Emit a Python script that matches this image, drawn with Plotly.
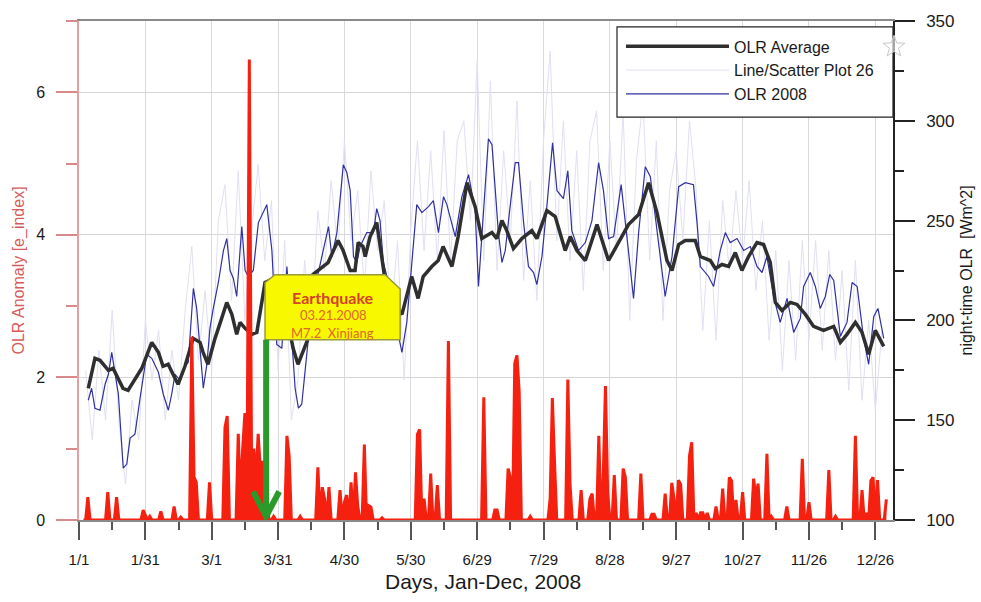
import math
import plotly.graph_objects as go

# ---------------- data ----------------
tick_days = [0, 30, 60, 90, 120, 150, 180, 210, 240, 270, 300, 330, 360]
tick_labels = ["1/1", "1/31", "3/1", "3/31", "4/30", "5/30", "6/29",
               "7/29", "8/28", "9/27", "10/27", "11/26", "12/26"]
minor_days = [15, 45, 75, 105, 135, 165, 195, 225, 255, 285, 315, 345]

# OLR Average (day of year, W/m^2)
avg_pts = [(4.2,166),(7.2,181),(9.5,180),(13.3,175),(15.4,176),(19.9,166),(22.2,165),(28.4,176),
           (32.9,189),(35.9,184),(38,177),(40.3,178),(43.4,171),(44.8,168),(47.9,177),(51.6,191),
           (54.7,189),(56.1,184),(58.3,178),(61.5,191),(64.5,201),(66.8,209),(69.1,203),(71.3,193),
           (72.8,199),(75.1,196),(78.1,193),(80.4,194),(84.1,219),(88,221),(92,213),(96.8,186),
           (99,178),(103.6,191),(105.8,223),(110.4,227),(112.6,229),(117.1,240),(119.4,235),(122.6,225),
           (124.8,225),(126.2,239),(128.4,237),(129.4,232),(131.6,242),(134.6,249),(138.4,220),(142,208),
           (146,203),(150.4,222),(153.3,211),(155.6,222),(159.5,227),(162.4,230),(164.6,237),(168.6,227),
           (171.4,242),(175.4,269),(179.1,257),(182.1,241),(186.7,244),(188.9,241),(191.2,250),(193.4,245),
           (196.4,236),(200.2,241),(204.7,245),(207,241),(211.5,255),(215.3,252),(219.8,235),(222.1,242),
           (225.1,235),(228.9,230),(234.2,248),(239.4,230),(243.9,239),(248.4,248),(253,253),(257.5,269),
           (261.3,254),(265.8,230),(268.1,225),(271.1,238),(274.1,240),(276.4,240),(278.6,240),(280.9,232),
           (285.4,230),(287.7,226),(290.7,228),(293.7,227),(296.7,234),(299.7,225),(302.7,232),(306.5,239),
           (309.5,238),(312.5,229),(314.8,209),(317.8,205),(321.6,209),(324.6,208),(328.4,203),(332.1,197),
           (336.6,195),(341.2,197),(344.2,189),(347.2,193),(351,199),(354,194),(357,183),(360,195),(363.8,187)]

# OLR 2008 (day of year, W/m^2)
olr2008_pts = [(4.2,160),(5.7,166),(7.2,156),(9.5,155),(11.8,168),(13.3,173),(14.8,184),(16.3,173),
               (17.8,163),(20,126),(21.6,128),(23.1,141),(25.3,143),(27.6,161),(29.1,173),(30.6,183),
               (32.9,181),(35.9,174),(38.1,163),(40.4,155),(41.9,163),(43.4,173),(45.7,170),(47.2,176),
               (49.4,179),(51.7,216),(53.2,206),(54.7,184),(56.2,166),(57.8,178),(59.2,196),(60.7,206),
               (63,219),(65.3,235),(66.8,241),(68.3,225),(69.8,221),(71.3,212),(73.6,247),(75.1,225),
               (76.6,222),(78.8,225),(81.1,249),(84.9,258),(87.2,235),(89.4,188),(91.7,186),(94,227),
               (97.7,166),(99.2,156),(100.7,158),(103.7,191),(105.2,209),(109.8,232),(111.3,240),(112.8,247),
               (114.3,232),(116.6,244),(119.5,278),(121.1,274),(122.6,265),(124.1,232),(125.6,229),(127.1,237),
               (130.1,244),(133.1,244),(134.6,256),(136.1,250),(137.6,229),(139.9,219),(143,200),(146,184),
               (148.2,199),(150.4,227),(152.7,258),(155,254),(158,257),(160.2,260),(162.5,244),(164.8,262),
               (166.3,258),(170.1,242),(173.1,262),(176.1,273),(179.1,255),(180.6,217),(182.9,257),(185.1,291),
               (186.7,288),(188.2,265),(189.6,244),(191.2,229),(192.7,235),(194.9,257),(197.2,279),(198.7,279),
               (201,249),(203.2,227),(205.5,224),(207,218),(209.3,232),(211.5,257),(214.1,289),(216.1,265),
               (219,261),(221,275),(222.8,245),(225.8,235),(228.9,239),(231.9,250),(234.9,279),(237.1,265),
               (239.4,241),(241.7,242),(245.1,268),(247.7,242),(250.7,211),(253,244),(256,277),(258.3,272),
               (262,240),(265,212),(268.1,232),(271.1,267),(274.1,269),(277.8,268),(279.4,249),(280.9,227),
               (284.6,222),(286.9,217),(289.9,235),(292.2,244),(294.4,239),(297.5,241),(300.5,235),(303.5,237),
               (306.5,227),(308.8,224),(311,232),(314,212),(317,199),(320.1,211),(323.1,194),(326.1,201),
               (327.6,217),(330.6,224),(332.9,217),(335.1,206),(337.4,212),(339.4,223),(341.2,220),(344.2,192),
               (347.2,199),(349.5,219),(351.8,217),(354.7,191),(357,178),(359.3,202),(361.2,206),(363.8,191)]

# "Line/Scatter Plot 26" (faint daily OLR, W/m^2)
faint_days = list(range(3, 364, 3))
faint_vals = [175,140,185,150,205,150,118,160,140,200,170,195,150,185,160,205,237,180,215,175,
              250,268,210,275,200,245,278,230,260,175,240,150,170,230,195,255,225,270,235,290,
              240,265,215,275,235,260,200,240,170,245,290,235,285,230,295,230,290,300,250,330,
              230,320,225,285,240,310,220,270,210,290,335,240,300,230,285,215,290,305,225,290,
              235,305,200,280,310,230,290,200,265,285,240,300,265,195,250,190,260,225,265,230,
              270,215,250,190,235,175,230,180,240,190,240,185,235,180,225,165,230,160,200,155,195]

# OLR anomaly e_index (non-zero days; all other days are 0)
anomaly_pts = [(4,0.32),(13,0.39),(17,0.32),(29,0.14),(30,0.08),(32,0.05),(37,0.12),(43,0.19),(46,0.04),
               (51,2.57),(52,0.6),(53,0.53),(59,0.53),(66,1.3),(67,1.46),(72,1.21),(73,0.3),(74,1.0),
               (75,1.5),(76,0.8),(77,6.46),(78,0.9),(79,1.0),(80,0.6),(81,1.21),(82,0.7),(83,0.83),
               (84,0.6),(85,0.2),(88,0.05),(94,1.18),(95,0.9),(100,0.05),(108,0.74),(110,0.46),(111,0.3),
               (113,0.46),(118,0.42),(120,0.25),(121,0.35),(123,0.53),(125,0.67),(126,0.2),(129,1.06),
               (131,0.2),(132,0.18),(137,0.03),(153,1.2),(154,1.27),(156,0.3),(159,0.65),(162,0.49),
               (167,2.51),(183,1.72),(188,0.14),(189,0.14),(194,0.72),(195,0.6),(197,2.2),(198,2.31),
               (199,1.8),(204,0.05),(213,0.3),(214,1.71),(215,0.8),(221,1.97),(222,0.5),(227,0.42),
               (231,0.3),(232,0.37),(235,1.18),(237,0.6),(238,1.88),(239,0.4),(242,0.63),(246,0.72),
               (247,0.6),(254,0.65),(259,0.08),(260,0.08),(265,0.37),(268,0.52),(269,0.3),(271,0.56),
               (272,0.5),(276,0.9),(277,1.09),(279,0.1),(281,0.1),(282,0.1),(284,0.1),(288,0.19),
               (291,0.44),(294,0.6),(295,0.55),(297,0.28),(300,0.39),(305,0.58),(306,0.3),(307,0.51),
               (311,0.93),(313,0.05),(320,0.19),(327,0.86),(330,0.25),(339,0.7),(342,0.05),(351,1.18),
               (354,0.42),(356,0.1),(358,0.55),(359,0.6),(361,0.56),(365,0.29)]
anomaly_first_day, anomaly_last_day = 2, 365

# ---------------- build ----------------
avg_days, avg_vals = zip(*avg_pts)
olr_days, olr_vals = zip(*olr2008_pts)
anom_lookup = dict(anomaly_pts)
anom_days = list(range(anomaly_first_day, anomaly_last_day + 1))
anom_vals = [anom_lookup.get(d, 0.0) for d in anom_days]

FONT = "Liberation Sans, Arial, sans-serif"
RED = "#f5200f"
W, H = 981, 602
ML, MR, MT, MB = 79, 88, 16, 82
PW, PH = W - ML - MR, H - MT - MB


def px_x(p):  # pixel -> paper x
    return (p - ML) / PW


def px_y(p):  # pixel -> paper y
    return (H - MB - p) / PH


fig = go.Figure()
fig.add_trace(go.Scatter(x=faint_days, y=faint_vals, yaxis="y", mode="lines",
                         line=dict(color="#e0e0f2", width=1), name="Line/Scatter Plot 26",
                         legendrank=2, legendgroup="b"))
fig.add_trace(go.Scatter(x=olr_days, y=olr_vals, yaxis="y", mode="lines",
                         line=dict(color="#3030a2", width=1.2), name="OLR 2008",
                         legendrank=3, legendgroup="c"))
fig.add_trace(go.Scatter(x=avg_days, y=avg_vals, yaxis="y", mode="lines",
                         line=dict(color="#2f2f2f", width=3.5), name="OLR Average",
                         legendrank=1, legendgroup="a"))
fig.add_trace(go.Scatter(x=anom_days, y=anom_vals, yaxis="y2", mode="lines",
                         line=dict(color=RED, width=3), fill="tozeroy", fillcolor=RED,
                         name="OLR Anomaly", showlegend=False))

# Earthquake callout (positions in data units of x / left axis)
bx0, bx1, by0, by1 = 84.1, 145.2, 2.53, 3.44
box_path = (f"M {bx0} {by0} L {bx0} 3.33 L 88.6 {by1} L 138.4 {by1} "
            f"L {bx1} 3.24 L {bx1} {by0} Z")
arrow_x = 84.6

# small decorative outline star next to the legend frame
star_cx, star_cy, r_out, r_in = 894, 42, 11.5, 4.8
star_pts = []
for k in range(10):
    r = r_out if k % 2 == 0 else r_in
    a = math.pi / 2 + k * math.pi / 5
    star_pts.append((px_x(star_cx + r * math.cos(a)), px_y(star_cy - r * math.sin(a))))
star_path = "M " + " L ".join(f"{x:.5f} {y:.5f}" for x, y in star_pts) + " Z"

shapes = [
    dict(type="path", path=box_path, xref="x", yref="y2", fillcolor="#f8f800",
         line=dict(color="#9a9a3a", width=1.5), layer="above"),
    dict(type="line", xref="x", yref="y2", x0=arrow_x, x1=arrow_x, y0=by0, y1=0.06,
         line=dict(color="#2a9a2a", width=6), layer="above"),
    dict(type="path", xref="x", yref="y2",
         path=f"M {arrow_x-5.9} 0.40 L {arrow_x} 0.05 L {arrow_x+5.9} 0.40",
         line=dict(color="#2a9a2a", width=6), layer="above"),
    # legend frame
    dict(type="rect", xref="paper", yref="paper", x0=px_x(617), x1=1.0,
         y0=px_y(113), y1=px_y(22), fillcolor="white",
         line=dict(color="#222222", width=1.2), layer="above"),
    dict(type="path", xref="paper", yref="paper", path=star_path,
         line=dict(color="#c8c8c8", width=1), fillcolor="rgba(255,255,255,0.6)",
         layer="above"),
]

cx = (bx0 + bx1) / 2
annotations = [
    dict(x=cx, y=3.125, xref="x", yref="y2", text="<b>Earthquake</b>", showarrow=False,
         font=dict(family="Lato, sans-serif", size=16, color="#d4432a")),
    dict(x=cx, y=2.875, xref="x", yref="y2", text="03.21.2008", showarrow=False,
         font=dict(family="Lato, sans-serif", size=13, color="#e0682c")),
    dict(x=cx, y=2.625, xref="x", yref="y2", text="M7.2  Xinjiang", showarrow=False,
         font=dict(family="Lato, sans-serif", size=13, color="#e0682c")),
    dict(x=px_x(483), y=px_y(582), xref="paper", yref="paper", yanchor="middle",
         xanchor="center", text="Days, Jan-Dec, 2008", showarrow=False,
         font=dict(family=FONT, size=21, color="#1a1a1a")),
    dict(x=px_x(18), y=0.5, xref="paper", yref="paper", textangle=-90,
         xanchor="center", yanchor="middle",
         text="OLR Anomaly [e_index]", showarrow=False,
         font=dict(family=FONT, size=16, color="#d65a5a")),
    dict(x=px_x(966), y=0.5, xref="paper", yref="paper", textangle=-90,
         xanchor="center", yanchor="middle",
         text="night-time OLR  [Wm^2]", showarrow=False,
         font=dict(family=FONT, size=16, color="#1a1a1a")),
]

fig.update_layout(
    width=W, height=H,
    margin=dict(l=ML, r=MR, t=MT, b=MB),
    paper_bgcolor="white", plot_bgcolor="white",
    font=dict(family=FONT, color="#1a1a1a"),
    xaxis=dict(range=[0, 368], tickmode="array", tickvals=tick_days, ticktext=tick_labels,
               ticks="outside", ticklen=18, tickcolor="#555555", tickwidth=1.5,
               tickfont=dict(size=15, color="#1a1a1a"), ticklabelstandoff=7,
               showgrid=True, gridcolor="#d9d9e0", gridwidth=1,
               showline=True, linecolor="#8a8a8a", linewidth=1.5, mirror=True,
               zeroline=False,
               minor=dict(tickvals=minor_days, ticks="outside", ticklen=8,
                          tickcolor="#555555", showgrid=False)),
    yaxis=dict(side="right", range=[100, 350], tickvals=[100, 150, 200, 250, 300, 350],
               ticks="outside", ticklen=20, tickcolor="#222222", tickwidth=1.5,
               tickfont=dict(size=17, color="#1a1a1a"), ticklabelstandoff=8,
               showgrid=False, zeroline=False,
               showline=True, linecolor="#222222", linewidth=1.5,
               minor=dict(dtick=25, tick0=0, ticks="outside", ticklen=9,
                          tickcolor="#222222", showgrid=False)),
    yaxis2=dict(overlaying="y", side="left", range=[0, 7], tickvals=[0, 2, 4, 6],
                ticks="outside", ticklen=21, tickcolor="#d88a8a", tickwidth=1.5,
                tickfont=dict(size=16, color="#1a1a1a"), ticklabelstandoff=8,
                showgrid=True, gridcolor="#d6d6d6", gridwidth=1, zeroline=False,
                showline=True, linecolor="#e4a0a0", linewidth=1.5,
                minor=dict(dtick=1, tick0=0, ticks="outside", ticklen=11,
                           tickcolor="#d88a8a", showgrid=False)),
    legend=dict(x=px_x(621), xanchor="left", y=px_y(24.5), yanchor="top",
                bgcolor="rgba(0,0,0,0)", borderwidth=0,
                font=dict(family=FONT, size=16, color="#1a1a1a"),
                itemwidth=103, tracegroupgap=0),
    shapes=shapes,
    annotations=annotations,
    showlegend=True,
)

fig.write_html("out.html", config={"displayModeBar": False},
               post_script="document.body.style.margin='0px';")
